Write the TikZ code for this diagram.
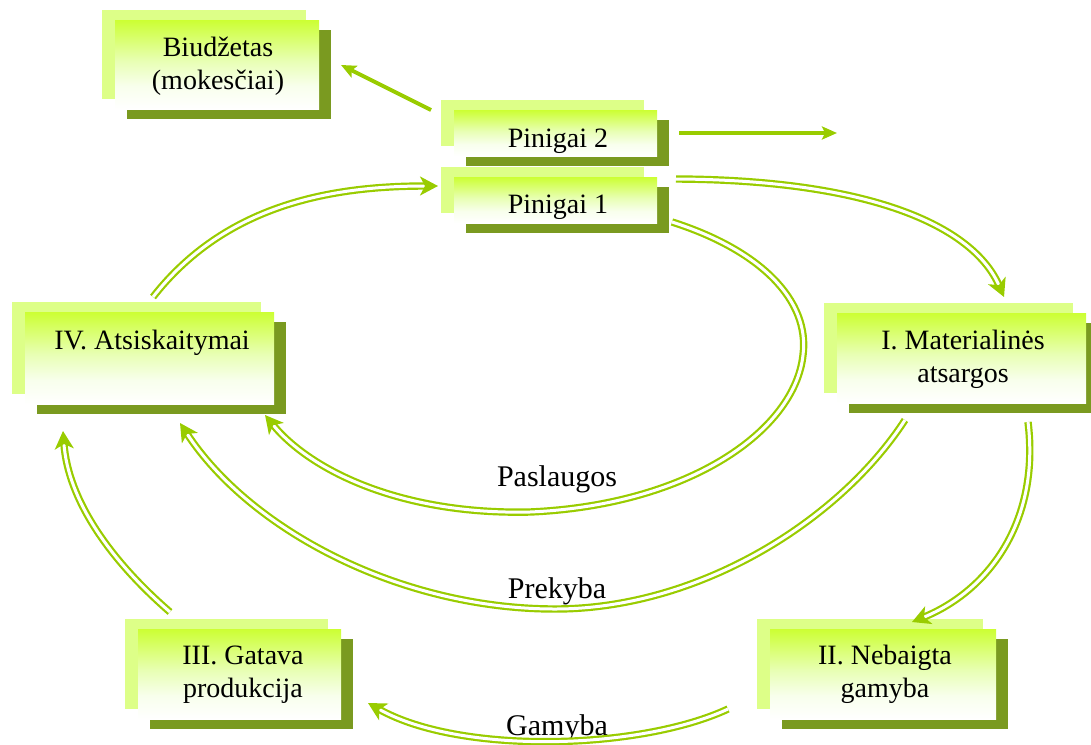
\documentclass[tikz,border=0pt]{standalone}
\usepackage{fontspec}
\setmainfont{Liberation Serif}
\usetikzlibrary{arrows.meta}
\definecolor{backc}{RGB}{221,255,136}
\definecolor{shadc}{RGB}{122,154,32}
\definecolor{topc}{RGB}{204,255,51}
\definecolor{midc}{RGB}{232,255,180}
\definecolor{lowc}{RGB}{248,255,236}
\definecolor{arrc}{RGB}{153,204,0}
\pgfdeclareverticalshading{greenfade}{100bp}{color(0bp)=(white); color(25bp)=(white); color(38bp)=(lowc); color(52bp)=(midc); color(75bp)=(topc); color(100bp)=(topc)}
\newcommand\gbox[5]{%
  \fill[backc] (#2-13,#3-10) rectangle (#4-13,#5-10);
  \fill[shadc] (#2+12,#3+10) rectangle (#4+12,#5+10);
  \node[frontbox, minimum width={(#4-#2)*1pt}, minimum height={(#5-#3)*1pt}] (#1) at (#2,#3) {};
}
\begin{document}
\begin{tikzpicture}[x=1pt,y=-1pt,
  frontbox/.style={rectangle, inner sep=0pt, outer sep=0pt, anchor=north west, shading=greenfade, draw=none},
  txt/.style={font=\fontsize{28}{33}\selectfont, align=center, anchor=base, inner sep=0pt},
  lbl/.style={font=\fontsize{30}{34}\selectfont, anchor=base, inner sep=0pt},
  sarrow/.style={draw=arrc, line width=4pt, -{Stealth[length=15pt,width=13pt,inset=3pt]}},
  darrow/.style={draw=arrc, line width=2.2pt, double=white, double distance=3pt, -{Stealth[length=18pt,width=19pt,inset=5pt]}}
]
\useasboundingbox (0,0) rectangle (1091,744);

% boxes
\gbox{bud}{115}{20}{319}{109}
\gbox{p2}{454}{110}{657}{156}
\gbox{p1}{454}{177}{657}{223}
\gbox{iv}{25}{312}{274}{404}
\gbox{i}{837}{313}{1086}{403}
\gbox{iii}{138}{629}{341}{719}
\gbox{ii}{770}{629}{996}{719}

% texts (anchor = baseline of the last line)
\node[txt] (budt) at (218,89) {Biudžetas\\(mokesčiai)};
\node[txt] (p2t) at (558,147) {Pinigai 2};
\node[txt] (p1t) at (558,213) {Pinigai 1};
\node[txt] (ivt) at (152,349) {IV. Atsiskaitymai};
\node[txt] (it) at (963,382) {I. Materialinės\\atsargos};
\node[txt] (iiit) at (243,697) {III. Gatava\\produkcija};
\node[txt] (iit) at (885,697) {II. Nebaigta\\gamyba};

% labels
\node[lbl] (pasl) at (557,486) {Paslaugos};
\node[lbl] (prek) at (557,598) {Prekyba};
\node[lbl] (gam) at (557,735) {Gamyba};

% connector end points
\coordinate (a1) at (431,110);
\coordinate (a2) at (341,65);
\coordinate (b1) at (679,133);
\coordinate (b2) at (837,133);
\coordinate (c1) at (153,297);
\coordinate (c2) at (438,186);
\coordinate (d1) at (676,179);
\coordinate (d2) at (1004,297);
\coordinate (e1) at (672,222);
\coordinate (e2) at (265,415);
\coordinate (f1) at (905,420);
\coordinate (f2) at (180,423);
\coordinate (g1) at (1028,422);
\coordinate (g2) at (912,622);
\coordinate (h1) at (728,709);
\coordinate (h2) at (368,703);
\coordinate (k1) at (170,612);
\coordinate (k2) at (63,431);

% single arrows
\draw[sarrow] (a1) -- (a2);
\draw[sarrow] (b1) -- (b2);

% double arrows
\draw[darrow] (c1) .. controls (225,205) and (330,186) .. (c2);
\draw[darrow] (d1) .. controls (880,180) and (975,230) .. (d2);
\draw[darrow] (e1) .. controls (760,250) and (810,300) .. (803,355)
  .. controls (795,430) and (690,505) .. (530,512)
  .. controls (400,515) and (310,470) .. (e2);
\draw[darrow] (f1) .. controls (840,520) and (700,609) .. (555,609)
  .. controls (400,609) and (250,530) .. (f2);
\draw[darrow] (g1) .. controls (1040,520) and (990,590) .. (g2);
\draw[darrow] (h1) .. controls (640,750) and (460,755) .. (h2);
\draw[darrow] (k1) .. controls (110,560) and (68,500) .. (k2);
\end{tikzpicture}
\end{document}
